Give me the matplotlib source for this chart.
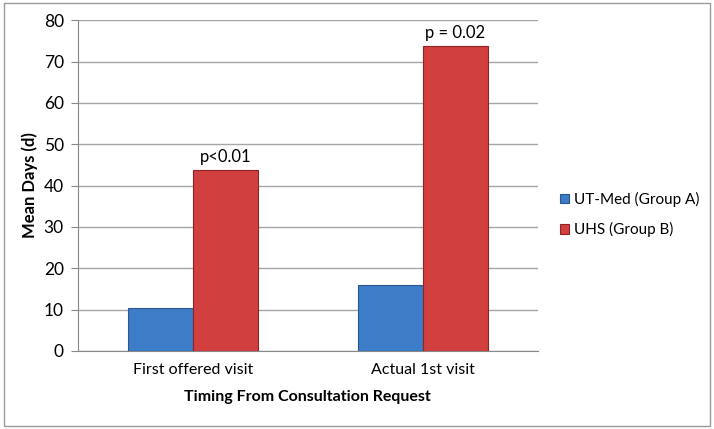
import numpy as np
import matplotlib.pyplot as plt
from matplotlib.patches import Rectangle

# datos
categorias = ["First offered visit", "Actual 1st visit"]
grupo_a = [10.4, 15.9]   # UT-Med (Group A)
grupo_b = [43.7, 73.7]   # UHS (Group B)
p_valores = ["p<0.01", "p = 0.02"]
series = ["UT-Med (Group A)", "UHS (Group B)"]

plt.rcParams['font.family'] = ['Lato', 'DejaVu Sans']

fig = plt.figure(figsize=(7.14, 4.29), dpi=100)
ax = fig.add_axes([0.109, 0.182, 0.644, 0.771])

x = np.arange(len(categorias))
ancho = 0.283
b1 = ax.bar(x - ancho / 2, grupo_a, ancho, color='#3d7cc7', edgecolor='#2a5790',
            linewidth=0.8, label=series[0], zorder=3)
b2 = ax.bar(x + ancho / 2, grupo_b, ancho, color='#d23f3f', edgecolor='#8e2424',
            linewidth=0.8, label=series[1], zorder=3)

for xi, yi, txt in zip(x + ancho / 2, grupo_b, p_valores):
    ax.text(xi, yi + 1.3, txt, ha='center', va='bottom', fontsize=12)

ax.set_xlim(-0.5, 1.5)
ax.set_ylim(0, 80)
ax.set_yticks(range(0, 81, 10))
ax.set_xticks(x)
ax.set_xticklabels(categorias, fontsize=11.5)
ax.tick_params(axis='y', labelsize=12.5, length=5, color='#888888', pad=5)
ax.tick_params(axis='x', length=0, pad=9)
ax.grid(axis='y', color='#a6a6a6', linewidth=1, zorder=0)
for s in ['top', 'right']:
    ax.spines[s].set_visible(False)
for s in ['left', 'bottom']:
    ax.spines[s].set_color('#888888')

ax.set_ylabel("Mean Days (d)", fontsize=12, fontweight='bold', labelpad=4)
ax.set_xlabel("Timing From Consultation Request", fontsize=11.5, fontweight='bold', labelpad=9)

leg = fig.legend(handles=[b1, b2], labels=series, loc='center left',
                 bbox_to_anchor=(0.765, 0.5), frameon=False, fontsize=11,
                 handlelength=0.6, handleheight=0.6, labelspacing=1.0, handletextpad=0.3)

# marco exterior
fig.patches.append(Rectangle((0.005, 0.007), 0.99, 0.986, transform=fig.transFigure,
                             fill=False, edgecolor='#999999', linewidth=1))

fig.savefig("out.png", dpi=100)
